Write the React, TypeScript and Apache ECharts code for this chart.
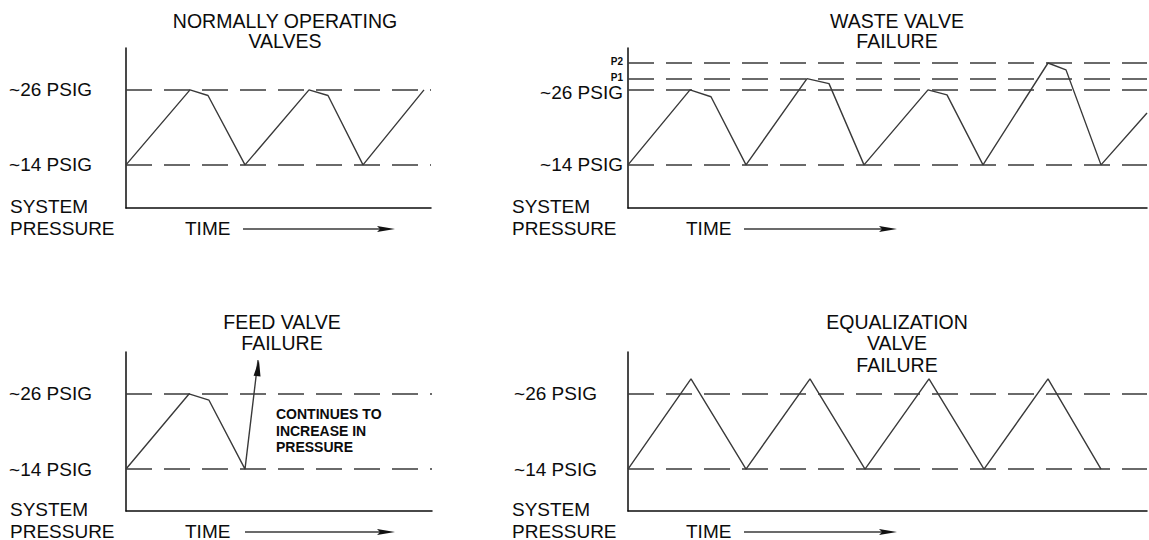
import React, { useEffect, useRef } from "react";
import * as echarts from "echarts";

// ---- data (time in arbitrary units, pressure in psig) ----
const LOW = 14;
const HIGH = 26;
const P1 = 27.8;
const P2 = 30.3;

const normalTime = [0, 6.4, 8.2, 11.9, 18.3, 20.2, 23.7, 29.8];
const normalPressure = [14, 26, 25.1, 14, 26, 25.1, 14, 26];

const wasteTime = [0, 6.2, 8.3, 11.8, 17.9, 20.1, 23.6, 30.0, 31.9, 35.5, 42.0, 43.8, 47.3, 51.9];
const wastePressure = [14, 26, 24.9, 14, 27.8, 27.0, 14, 26, 25.2, 14, 30.3, 29.2, 14, 22.3];

const feedTime = [0, 6.3, 8.3, 11.9, 13.2];
const feedPressure = [14, 26, 25.0, 14, 31.4];

const eqTime = [0, 6.3, 11.8, 18.2, 23.7, 30.1, 35.6, 42.0, 47.3];
const eqPressure = [14, 28.4, 14, 28.4, 14, 28.4, 14, 28.4, 14];

const titles = [
  "NORMALLY OPERATING\nVALVES",
  "WASTE VALVE\nFAILURE",
  "FEED VALVE\nFAILURE",
  "EQUALIZATION\nVALVE\nFAILURE",
];
const lowLabel = "~14 PSIG";
const highLabel = "~26 PSIG";
const feedNote = "CONTINUES TO\nINCREASE IN\nPRESSURE";

const FONT = '"Liberation Sans", Arial, Helvetica, sans-serif';
const INK = "#0c0c0c";
const LINE = "#3a3a3a";

// layout
const grids = [
  { left: 126, top: 48, width: 305, height: 160 },
  { left: 628, top: 48, width: 519, height: 160 },
  { left: 126, top: 352, width: 306, height: 159 },
  { left: 628, top: 352, width: 519, height: 159 },
];
const xMax = [30.5, 51.9, 30.6, 51.9];
const yRange = [
  [7.1, 32.7],
  [7.1, 32.7],
  [7.3, 32.7],
  [7.3, 32.7],
];
const labelMargin = [34, 5, 34, 31];

const pairs = (t: number[], p: number[]) => t.map((v, i) => [v, p[i]]);

export default function App() {
  const ref = useRef<HTMLDivElement>(null);

  useEffect(() => {
    if (!ref.current) return;
    const chart = echarts.init(ref.current, undefined, { renderer: "svg" });

    const near = (a: number, b: number) => Math.abs(a - b) < 0.01;

    const xAxis = grids.map((_, i) => ({
      type: "value",
      gridIndex: i,
      min: 0,
      max: xMax[i],
      axisLine: { show: true, onZero: false, lineStyle: { color: INK, width: 1.5 } },
      axisTick: { show: false },
      axisLabel: { show: false },
      splitLine: { show: false },
    }));

    const yAxis = grids.map((_, i) => ({
      type: "value",
      gridIndex: i,
      min: yRange[i][0],
      max: yRange[i][1],
      axisLine: { show: true, onZero: false, lineStyle: { color: INK, width: 1.5 } },
      axisTick: { show: false },
      splitLine: { show: false },
      axisLabel: {
        show: true,
        customValues: i === 1 ? [LOW, HIGH, P1, P2] : [LOW, HIGH],
        margin: labelMargin[i],
        fontSize: 19,
        fontFamily: FONT,
        color: INK,
        formatter: (v: number) => {
          if (near(v, LOW)) return lowLabel;
          if (near(v, HIGH)) return i === 1 ? "{b|" + highLabel + "}" : highLabel;
          if (near(v, P1)) return "{s|P1}";
          if (near(v, P2)) return "{s|P2}";
          return "";
        },
        rich: {
          s: { fontSize: 10, lineHeight: 9, fontFamily: FONT, color: INK, fontWeight: "bold", padding: [0, 0, 3, 0] },
          b: { fontSize: 19, lineHeight: 13, fontFamily: FONT, color: INK, padding: [5, 0, 0, 0] },
        },
      },
    }));

    const dashed = (vals: number[]) => ({
      silent: true,
      symbol: "none",
      label: { show: false },
      lineStyle: { type: [26, 12], color: LINE, width: 1.5 },
      data: vals.map((v) => ({ yAxis: v })),
    });

    // arrow angle for the feed-valve rise (pixel space)
    const g = grids[2];
    const pxX = g.width / xMax[2];
    const pxY = g.height / (yRange[2][1] - yRange[2][0]);
    const n = feedTime.length;
    const dx = (feedTime[n - 1] - feedTime[n - 2]) * pxX;
    const dy = (feedPressure[n - 1] - feedPressure[n - 2]) * pxY;
    const rot = -(Math.atan2(dx, dy) * 180) / Math.PI;

    const feedData: any[] = pairs(feedTime, feedPressure);
    feedData[n - 1] = {
      value: feedData[n - 1],
      symbol: "triangle",
      symbolSize: [7, 16],
      symbolOffset: [0, "50%"],
      symbolRotate: rot,
      itemStyle: { color: "#111" },
    };

    const lineBase = {
      type: "line",
      symbol: "none",
      lineStyle: { color: LINE, width: 1.4 },
      silent: true,
    };

    const series: any[] = [
      { ...lineBase, xAxisIndex: 0, yAxisIndex: 0, data: pairs(normalTime, normalPressure), markLine: dashed([LOW, HIGH]) },
      { ...lineBase, xAxisIndex: 1, yAxisIndex: 1, data: pairs(wasteTime, wastePressure), markLine: dashed([LOW, HIGH, P1, P2]) },
      { ...lineBase, xAxisIndex: 2, yAxisIndex: 2, showSymbol: true, data: feedData, markLine: dashed([LOW, HIGH]) },
      { ...lineBase, xAxisIndex: 3, yAxisIndex: 3, data: pairs(eqTime, eqPressure), markLine: dashed([LOW, HIGH]) },
    ];

    const titleCfg = [
      { x: 285, top: 11, lh: 20 },
      { x: 897, top: 11, lh: 20 },
      { x: 282, top: 311, lh: 21 },
      { x: 897, top: 311, lh: 21.5 },
    ];

    const txt = (x: number, y: number, text: string, extra: any = {}) => ({
      type: "text",
      x,
      y,
      silent: true,
      style: {
        text,
        fontSize: 19,
        fontFamily: FONT,
        fill: INK,
        align: "left",
        verticalAlign: "middle",
        ...extra,
      },
    });

    const arrow = (x1: number, x2: number, y: number) => [
      { type: "line", silent: true, shape: { x1, y1: y, x2: x2 - 14, y2: y }, style: { stroke: LINE, lineWidth: 1.3 } },
      {
        type: "polygon",
        silent: true,
        shape: { points: [[x2 - 18, y - 3], [x2, y], [x2 - 18, y + 3], [x2 - 15, y]] },
        style: { fill: "#111" },
      },
    ];

    const panelText = (sx: number, timeX: number, ySys: number, yPres: number, arrowX1: number, arrowX2: number) => [
      txt(sx, ySys, "SYSTEM"),
      txt(sx, yPres, "PRESSURE"),
      txt(timeX, yPres, "TIME"),
      ...arrow(arrowX1, arrowX2, yPres + 1),
    ];

    const graphic: any[] = [
      ...panelText(10, 185, 206, 228, 243, 395),
      ...panelText(512, 686, 206, 228, 744, 897),
      ...panelText(10, 185, 509, 531, 245, 395),
      ...panelText(512, 686, 509, 531, 744, 897),
      {
        type: "text",
        x: 276,
        y: 406,
        silent: true,
        style: {
          text: feedNote,
          fontSize: 14,
          fontWeight: "bold",
          fontFamily: FONT,
          fill: INK,
          lineHeight: 16.5,
          align: "left",
          verticalAlign: "top",
        },
      },
    ];

    chart.setOption({
      animation: false,
      backgroundColor: "#ffffff",
      title: titles.map((t, i) => ({
        text: t,
        left: titleCfg[i].x,
        top: titleCfg[i].top,
        textAlign: "center",
        padding: 0,
        textStyle: {
          fontSize: 19.5,
          fontWeight: "normal",
          fontFamily: FONT,
          color: INK,
          lineHeight: titleCfg[i].lh,
        },
      })),
      grid: grids.map((gr) => ({ ...gr, containLabel: false })),
      xAxis,
      yAxis,
      series,
      graphic,
    });

    return () => chart.dispose();
  }, []);

  return (
    <div
      ref={ref}
      style={{ position: "absolute", left: 0, top: 0, width: 1149, height: 540, background: "#fff" }}
    />
  );
}
